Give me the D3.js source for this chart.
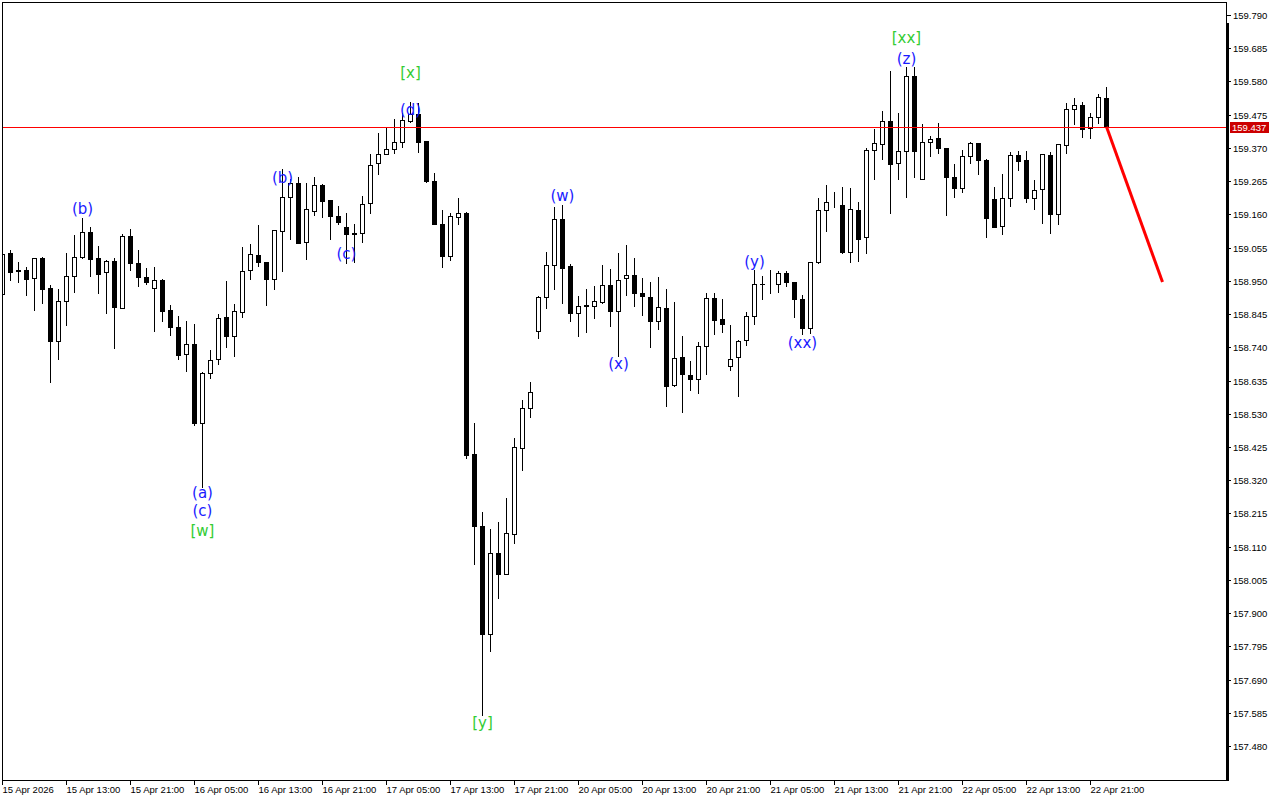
<!DOCTYPE html>
<html>
<head>
<meta charset="utf-8">
<script src="https://cdn.jsdelivr.net/npm/d3@7"></script>
<style>
  html, body { margin: 0; padding: 0; background: #ffffff; }
  svg { display: block; }
</style>
</head>
<body>
<svg id="chart" width="1280" height="800"></svg>
<script>
// ---------- DATA ----------
const open = [
158.908,159.038,158.984,158.984,158.960,159.022,158.927,158.761,158.886,158.965,
159.025,159.104,159.021,158.977,159.013,158.865,159.091,159.007,158.963,158.928,
158.953,158.858,158.804,158.718,158.750,158.500,158.658,158.702,158.836,158.777,
158.851,158.983,159.032,159.010,158.957,159.109,159.214,159.258,159.072,159.172,
159.253,159.205,159.155,159.120,159.100,159.100,159.197,159.322,159.350,159.366,
159.388,159.456,159.477,159.392,159.266,159.130,159.028,159.153,159.165,158.402,
158.175,157.835,158.090,158.025,158.151,158.423,158.547,158.791,158.898,158.999,
159.146,158.997,158.848,158.873,158.871,158.884,158.937,158.856,158.958,158.969,
158.912,158.899,158.824,158.864,158.620,158.709,158.653,158.639,158.743,158.895,
158.829,158.681,158.709,158.762,158.839,158.941,158.939,158.941,158.974,158.946,
158.893,158.800,159.009,159.173,159.194,159.190,159.040,159.173,159.088,159.364,
159.382,159.454,159.322,159.360,159.597,159.271,159.388,159.401,159.369,159.277,
159.243,159.344,159.385,159.332,159.208,159.123,159.211,159.347,159.332,159.211,
159.239,159.347,159.162,159.378,159.492,159.505,159.432,159.467,159.527
];
const high = [
159.044,159.047,159.009,158.994,159.022,159.025,158.937,158.924,159.038,159.095,
159.148,159.120,159.059,159.015,159.023,159.099,159.114,159.048,158.990,158.993,
158.955,158.874,158.838,158.823,158.813,158.663,158.732,158.845,158.950,158.877,
159.057,159.067,159.127,159.010,159.112,159.304,159.272,159.277,159.258,159.277,
159.255,159.205,159.187,159.165,159.129,159.218,159.351,159.417,159.434,159.462,
159.480,159.516,159.513,159.392,159.291,159.174,159.164,159.212,159.168,158.501,
158.220,158.166,158.187,158.264,158.454,158.574,158.631,158.901,159.041,159.183,
159.190,159.002,158.902,158.924,158.934,159.000,158.988,159.037,159.062,159.023,
158.959,158.946,158.962,158.924,158.882,158.776,158.697,158.757,158.911,158.911,
158.893,158.811,158.763,158.852,158.984,158.965,158.984,158.982,158.982,158.946,
158.904,159.009,159.212,159.253,159.230,159.247,159.243,159.200,159.369,159.430,
159.487,159.613,159.481,159.625,159.625,159.445,159.408,159.449,159.369,159.318,
159.364,159.390,159.385,159.335,159.247,159.288,159.356,159.360,159.360,159.269,
159.352,159.356,159.382,159.511,159.527,159.514,159.480,159.541,159.562
];
const low = [
158.899,158.953,158.947,158.905,158.859,158.881,158.631,158.704,158.811,158.916,
159.021,158.966,158.910,158.849,158.739,158.863,158.984,158.934,158.940,158.793,
158.824,158.779,158.704,158.666,158.495,158.300,158.644,158.686,158.742,158.714,
158.837,158.957,158.997,158.874,158.925,158.982,159.083,159.071,159.020,159.157,
159.151,159.083,159.129,159.006,159.009,159.072,159.165,159.289,159.350,159.353,
159.372,159.451,159.358,159.263,159.128,158.995,159.017,159.128,158.391,158.056,
157.578,157.781,157.948,158.025,158.123,158.353,158.521,158.770,158.865,158.923,
158.879,158.824,158.777,158.789,158.834,158.881,158.808,158.714,158.904,158.872,
158.843,158.742,158.799,158.554,158.617,158.537,158.604,158.594,158.654,158.781,
158.789,158.667,158.587,158.746,158.815,158.894,158.910,158.916,158.935,158.837,
158.781,158.785,159.006,159.109,159.183,159.037,159.011,159.014,159.037,159.271,
159.336,159.165,159.271,159.216,159.279,159.271,159.346,159.353,159.159,159.214,
159.232,159.322,159.286,159.090,159.119,159.097,159.188,159.301,159.200,159.178,
159.134,159.102,159.128,159.353,159.445,159.406,159.402,159.448,159.437
];
const close = [
159.034,158.979,158.981,158.957,159.021,158.925,158.761,158.886,158.965,159.025,
159.104,159.020,158.973,159.013,158.868,159.091,159.007,158.963,158.947,158.953,
158.856,158.803,158.717,158.751,158.502,158.658,158.699,158.832,158.777,158.854,
158.981,159.034,159.009,158.957,159.110,159.214,159.258,159.071,159.176,159.252,
159.203,159.156,159.137,159.097,159.097,159.192,159.315,159.350,159.366,159.388,
159.457,159.477,159.390,159.267,159.128,159.030,159.154,159.164,158.401,158.176,
157.835,158.090,158.025,158.152,158.424,158.547,158.598,158.898,158.999,159.146,
158.992,158.848,158.870,158.871,158.886,158.937,158.856,158.952,158.968,158.910,
158.901,158.824,158.867,158.617,158.705,158.655,158.639,158.743,158.895,158.827,
158.813,158.703,158.759,158.839,158.939,158.939,158.939,158.974,158.946,158.891,
158.802,159.009,159.173,159.198,159.194,159.042,159.176,159.083,159.364,159.385,
159.454,159.318,159.360,159.597,159.360,159.388,159.399,159.369,159.279,159.243,
159.344,159.385,159.331,159.147,159.119,159.211,159.347,159.330,159.213,159.236,
159.350,159.162,159.382,159.492,159.505,159.429,159.467,159.530,159.437
];

// x-axis tick labels, one every 8 hourly bars
const timeLabels = [
"15 Apr 2026","15 Apr 13:00","15 Apr 21:00","16 Apr 05:00","16 Apr 13:00","16 Apr 21:00",
"17 Apr 05:00","17 Apr 13:00","17 Apr 21:00","20 Apr 05:00","20 Apr 13:00","20 Apr 21:00",
"21 Apr 05:00","21 Apr 13:00","21 Apr 21:00","22 Apr 05:00","22 Apr 13:00","22 Apr 21:00"
];
const labelStep = 8;

// y-axis tick labels
const priceTicks = [
"159.790","159.685","159.580","159.475","159.370","159.265","159.160","159.055",
"158.950","158.845","158.740","158.635","158.530","158.425","158.320","158.215",
"158.110","158.005","157.900","157.795","157.690","157.585","157.480"
];

// current price line
const currentPrice = 159.437;

// forecast arrow: bar index, price
const forecastIdx = [138, 145];
const forecastPrice = [159.437, 158.946];

// wave labels
const waveText  = ["(b)","(a)","(c)","[w]","(b)","(c)","[x]","(d)","[y]","(w)","(x)","(y)","(xx)","[xx]","(z)"];
const waveIdx   = [10, 25, 25, 25, 35, 43, 51, 51, 60, 70, 77, 94, 100, 113, 113];
const wavePrice = [159.177,158.280,158.223,158.160,159.275,159.035,159.607,159.490,157.553,159.218,158.687,159.010,158.754,159.718,159.651];
const waveKind  = ["minor","minor","minor","major","minor","minor","major","minor","major","minor","minor","minor","minor","major","minor"];

// ---------- CHART ----------
const svg = d3.select("#chart");
const plot = {left: 2, top: 2, right: 1226, bottom: 780};

const x = d3.scaleLinear().domain([0, 145]).range([2.5, 2.5 + 8 * 145]);
const y = d3.scaleLinear().domain([157.480, 159.790]).range([746, 15]);

svg.append("defs").append("clipPath").attr("id", "plotClip")
  .append("rect").attr("x", plot.left + 0.5).attr("y", plot.top)
  .attr("width", plot.right - plot.left).attr("height", plot.bottom - plot.top);

const g = svg.append("g").attr("clip-path", "url(#plotClip)");

const candles = open.map((o, i) => ({i, o, h: high[i], l: low[i], c: close[i]}));

const snap = v => Math.round(v);

// wicks
g.append("g").selectAll("line").data(candles).join("line")
  .attr("x1", d => x(d.i)).attr("x2", d => x(d.i))
  .attr("y1", d => snap(y(d.h))).attr("y2", d => snap(y(d.l)) + 1)
  .attr("stroke", "#000").attr("stroke-width", 1)
  .attr("shape-rendering", "crispEdges");

// bodies
g.append("g").selectAll("rect").data(candles).join("rect")
  .attr("x", d => d.c >= d.o ? x(d.i) - 2 : x(d.i) - 2.5)
  .attr("width", d => d.c >= d.o ? 4 : 5)
  .attr("y", d => {
    const t = snap(y(Math.max(d.o, d.c)));
    return d.c >= d.o ? t + 0.5 : t;
  })
  .attr("height", d => {
    const t = snap(y(Math.max(d.o, d.c))), b = snap(y(Math.min(d.o, d.c)));
    if (d.c >= d.o) return Math.max(0, b - t);
    return Math.max(1, b - t + 1);
  })
  .attr("fill", d => d.c >= d.o ? "#fff" : "#000")
  .attr("stroke", d => d.c >= d.o ? "#000" : "none")
  .attr("stroke-width", 1)
  .attr("shape-rendering", "crispEdges");

// current price line (1px red)
svg.append("rect")
  .attr("x", plot.left + 1).attr("width", plot.right - plot.left - 1)
  .attr("y", snap(y(currentPrice))).attr("height", 1)
  .attr("fill", "#ff0000")
  .attr("shape-rendering", "crispEdges");

// forecast line
g.append("line")
  .attr("x1", x(forecastIdx[0])).attr("y1", y(forecastPrice[0]))
  .attr("x2", x(forecastIdx[1])).attr("y2", y(forecastPrice[1]))
  .attr("stroke", "#ff0000").attr("stroke-width", 3);

// wave labels
g.append("g").selectAll("text").data(waveText).join("text")
  .attr("x", (d, k) => x(waveIdx[k]))
  .attr("y", (d, k) => y(wavePrice[k]))
  .attr("text-anchor", "middle")
  .attr("dominant-baseline", "central")
  .attr("font-family", "'DejaVu Sans', sans-serif")
  .attr("font-size", 15)
  .attr("fill", (d, k) => waveKind[k] === "major" ? "#33cc33" : "#1a1aff")
  .text(d => d);

// frame
const frame = svg.append("g").attr("shape-rendering", "crispEdges");
frame.append("path")
  .attr("d", `M${plot.left + 0.5},${plot.top + 0.5} H${plot.right + 0.5} V${plot.bottom + 0.5} H${plot.left + 0.5} Z`)
  .attr("fill", "none").attr("stroke", "#000").attr("stroke-width", 1);
frame.append("rect")
  .attr("x", plot.right).attr("y", 23).attr("width", 3).attr("height", plot.bottom + 1 - 23)
  .attr("fill", "#000");

// right axis
const yAxisG = svg.append("g").attr("shape-rendering", "crispEdges");
priceTicks.forEach(t => {
  const yy = snap(y(+t)) + 0.5;
  yAxisG.append("line").attr("x1", plot.right + 1).attr("x2", plot.right + 5)
    .attr("y1", yy).attr("y2", yy).attr("stroke", "#000");
  yAxisG.append("text").attr("x", plot.right + 7).attr("y", yy)
    .attr("dominant-baseline", "central")
    .attr("font-family", "'Liberation Sans', Arial, sans-serif")
    .attr("font-size", 9.5).attr("fill", "#000")
    .text(t);
});

// current price tag
const cy = snap(y(currentPrice)) + 0.5;
svg.append("rect").attr("x", 1230).attr("y", cy - 5.5).attr("width", 39).attr("height", 11)
  .attr("fill", "#cc0000");
svg.append("text").attr("x", 1232).attr("y", cy)
  .attr("dominant-baseline", "central")
  .attr("font-family", "'Liberation Sans', Arial, sans-serif")
  .attr("font-size", 9.5).attr("fill", "#fff")
  .text(d3.format(".3f")(currentPrice));

// bottom axis
const xAxisG = svg.append("g").attr("shape-rendering", "crispEdges");
timeLabels.forEach((t, k) => {
  const xx = x(k * labelStep);
  xAxisG.append("line").attr("x1", xx).attr("x2", xx)
    .attr("y1", plot.bottom + 1).attr("y2", plot.bottom + 5).attr("stroke", "#000");
  xAxisG.append("text").attr("x", xx).attr("y", 789.5)
    .attr("dominant-baseline", "central")
    .attr("font-family", "'Liberation Sans', Arial, sans-serif")
    .attr("font-size", 9.5).attr("fill", "#000")
    .text(t);
});
</script>
</body>
</html>
